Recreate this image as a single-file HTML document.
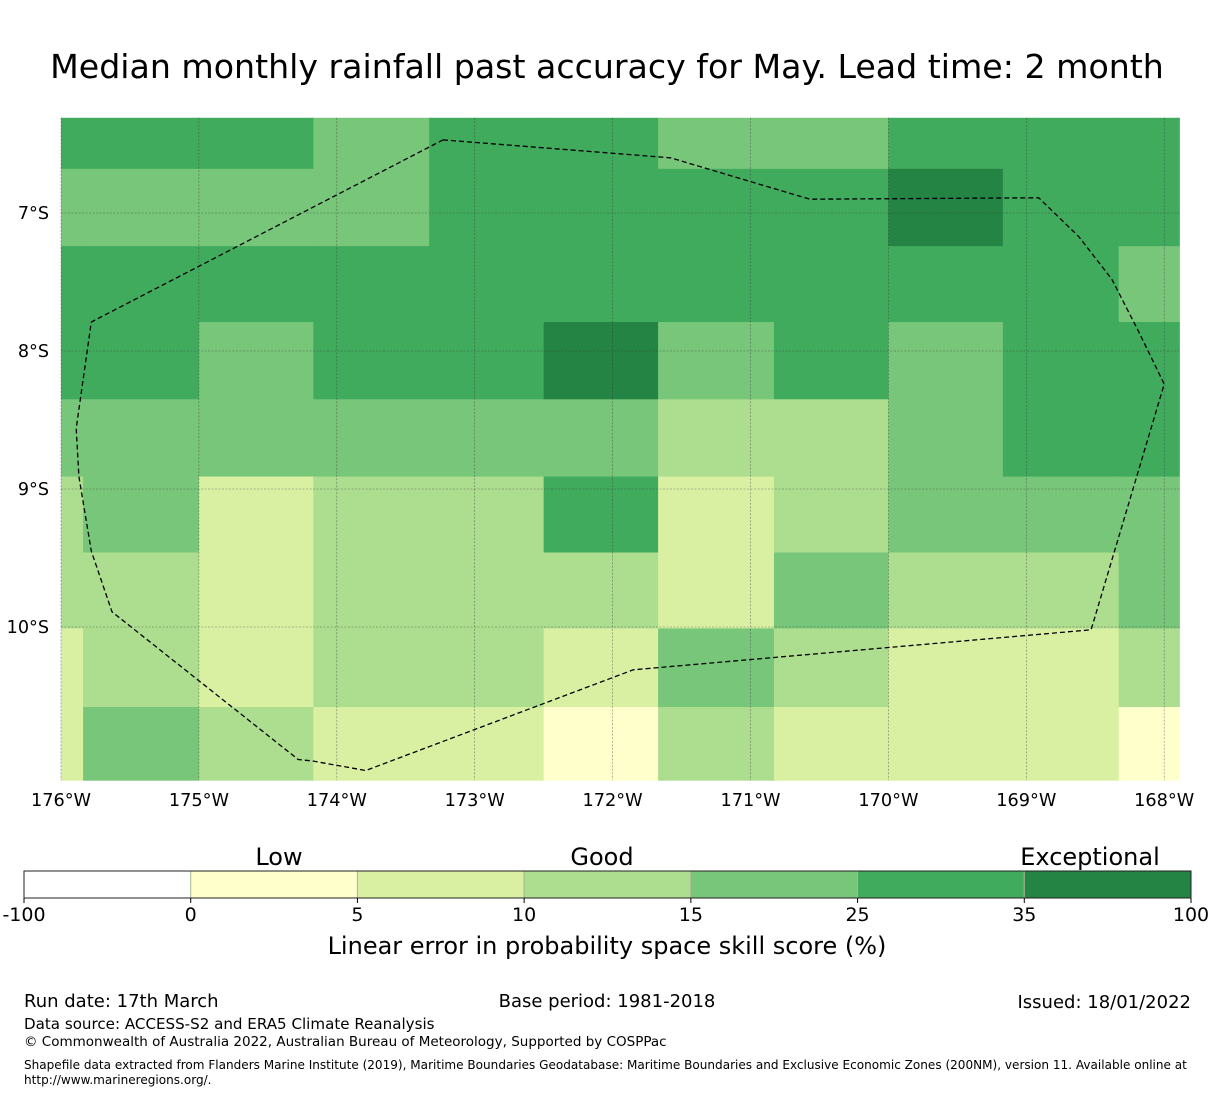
<!DOCTYPE html>
<html><head><meta charset="utf-8"><style>
body{margin:0;background:#fff;}
svg text{font-family:"DejaVu Sans","Liberation Sans",sans-serif;fill:#000;}
</style></head><body>
<svg id="chart" width="1215" height="1095" viewBox="0 0 1215 1095" xmlns="http://www.w3.org/2000/svg">
<text x="607" y="78" font-size="33.2" text-anchor="middle">Median monthly rainfall past accuracy for May. Lead time: 2 month</text>
<g id="map"></g>
<g id="cbar"></g>
<text x="607" y="954" font-size="24" text-anchor="middle">Linear error in probability space skill score (%)</text>
<text x="24" y="1007" font-size="18">Run date: 17th March</text>
<text x="607" y="1007" font-size="18" text-anchor="middle">Base period: 1981-2018</text>
<text x="1191" y="1008" font-size="18" text-anchor="end">Issued: 18/01/2022</text>
<text x="24" y="1029" font-size="15.1">Data source: ACCESS-S2 and ERA5 Climate Reanalysis</text>
<text x="24" y="1046" font-size="13.5">© Commonwealth of Australia 2022, Australian Bureau of Meteorology, Supported by COSPPac</text>
<text x="24" y="1069" font-size="12.05">Shapefile data extracted from Flanders Marine Institute (2019), Maritime Boundaries Geodatabase: Maritime Boundaries and Exclusive Economic Zones (200NM), version 11. Available online at</text>
<text x="24" y="1084" font-size="12.05">http://www.marineregions.org/.</text>
</svg>
<script>
const colEdgesLon = [-176, -175.84, -175, -174.17, -173.33, -172.5, -171.67, -170.83, -170, -169.17, -168.33, -167.89];
const rowEdgesLat = [-6.31, -6.68, -7.24, -7.79, -8.35, -8.91, -9.46, -10.01, -10.58, -11.11];
const levelGrid = [
 [5,5,5,4,5,5,4,4,5,5,5],
 [4,4,4,4,5,5,5,5,6,5,5],
 [5,5,5,5,5,5,5,5,5,5,4],
 [5,5,4,5,5,6,4,5,4,5,5],
 [4,4,4,4,4,4,3,3,4,5,5],
 [3,4,2,3,3,5,2,3,4,4,4],
 [3,3,2,3,3,3,2,4,3,3,4],
 [2,3,2,3,3,2,4,3,2,2,3],
 [2,4,3,2,2,1,3,2,2,2,1]
];
const levelColors = ["#ffffff","#ffffcc","#d9f0a3","#addd8e","#78c679","#41ab5d","#238443"];
const cbarTicks = ["-100","0","5","10","15","25","35","100"];
const lonTicks = [-176,-175,-174,-173,-172,-171,-170,-169,-168];
const latTicks = [-7,-8,-9,-10];
const eezLon = [-173.23,-171.58,-170.57,-168.91,-168.62,-168.38,-168.19,-168.0,-168.53,-171.85,-173.79,-174.18,-174.28,-175.63,-175.78,-175.87,-175.89,-175.78,-173.23];
const eezLat = [-6.47,-6.60,-6.90,-6.89,-7.17,-7.48,-7.85,-8.24,-10.02,-10.31,-11.04,-10.97,-10.96,-9.89,-9.45,-8.91,-8.56,-7.79,-6.47];

const NS="http://www.w3.org/2000/svg";
const xL = lon => 61 + (lon + 176) * 137.9;
const yL = lat => 213 + (-lat - 7) * 138;
function mk(tag, attrs, parent){const e=document.createElementNS(NS,tag);for(const k in attrs)e.setAttribute(k,attrs[k]);parent.appendChild(e);return e;}
const map=document.getElementById('map');
for(let r=0;r<levelGrid.length;r++){for(let c=0;c<levelGrid[r].length;c++){
 const x0=xL(colEdgesLon[c]),x1=xL(colEdgesLon[c+1]),y0=yL(rowEdgesLat[r]),y1=yL(rowEdgesLat[r+1]);
 const rc=mk('rect',{x:x0,y:y0,width:x1-x0+0.5,height:y1-y0+0.5,fill:levelColors[levelGrid[r][c]]},map);
 
 
}}
const mx0=xL(colEdgesLon[0]),mx1=xL(colEdgesLon[colEdgesLon.length-1]),my0=yL(rowEdgesLat[0]),my1=yL(rowEdgesLat[rowEdgesLat.length-1]);
lonTicks.forEach(l=>{const x=xL(l);
 const ln=mk('line',{x1:x,x2:x,y1:my0,y2:my1,stroke:'#333','stroke-width':0.6,'stroke-dasharray':'2,1.5','stroke-opacity':0.6},map);
 
 
 const t=mk('text',{x:x,y:806,'font-size':17.7,'text-anchor':'middle'},map);t.textContent=(-l)+'°W';
 
 
});
latTicks.forEach(l=>{const y=yL(l);
 const ln=mk('line',{x1:mx0,x2:mx1,y1:y,y2:y,stroke:'#333','stroke-width':0.6,'stroke-dasharray':'2,1.5','stroke-opacity':0.6},map);
 
 
 const t=mk('text',{x:49,y:y+6,'font-size':17.6,'text-anchor':'end'},map);t.textContent=(-l)+'°S';
 
 
});
const pts=eezLon.map((l,i)=>xL(l).toFixed(1)+','+yL(eezLat[i]).toFixed(1)).join(' ');
const eez=mk('polyline',{points:pts,fill:'none',stroke:'#000','stroke-width':1.3,'stroke-dasharray':'5,3'},map);


const cb=document.getElementById('cbar');
const cbx0=24,cbw=1167/7;
levelColors.forEach((col,i)=>{const r=mk('rect',{x:cbx0+i*cbw,y:871,width:cbw,height:27,fill:col,stroke:i>0?'#a8b890':'none','stroke-width':1},cb);
 
 });
const bd=mk('rect',{x:cbx0,y:871,width:1167,height:27,fill:'none',stroke:'#222','stroke-width':1},cb);


cbarTicks.forEach((s,i)=>{const x=cbx0+i*cbw;
 const tk=mk('line',{x1:x,x2:x,y1:898,y2:903,stroke:'#000'},cb);
 
 
 const t=mk('text',{x:x,y:921,'font-size':19,'text-anchor':'middle'},cb);t.textContent=s;
 
 });
[['Low',279],['Good',602],['Exceptional',1090]].forEach(([s,x])=>{const t=mk('text',{x:x,y:865,'font-size':24,'text-anchor':'middle'},cb);t.textContent=s;
 
 });
</script>
</body></html>
